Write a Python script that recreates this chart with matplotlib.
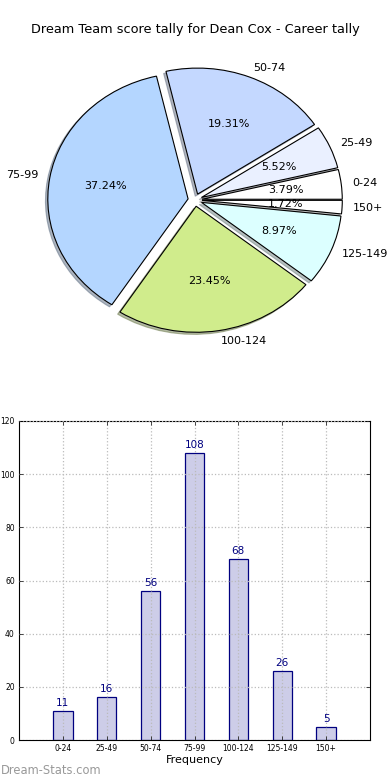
import matplotlib
matplotlib.use("Agg")
import matplotlib.pyplot as plt

# data
categories = ["0-24", "25-49", "50-74", "75-99", "100-124", "125-149", "150+"]
counts = [11, 16, 56, 108, 68, 26, 5]
pie_colors = ["#ffffff", "#eaf0ff", "#c4d8ff", "#b4d6ff", "#d0ec8c", "#dcffff", "#ffffff"]
yticks = [0, 20, 40, 60, 80, 100, 120]

fig = plt.figure(figsize=(3.9, 7.8), dpi=100)
fig.patch.set_facecolor("white")

fig.text(0.5, 1 - 30 / 780, "Dream Team score tally for Dean Cox - Career tally",
         ha="center", va="center", fontsize=9.3, color="black")

# ── Pie ────────────────────────────────────────────────────────────────────
ax1 = fig.add_axes([0.0, 1 - 350 / 780, 1.0, 300 / 780])
wedges, texts, autotexts = ax1.pie(
    counts, labels=categories, colors=pie_colors, explode=[0.05] * len(counts),
    autopct="%1.2f%%", pctdistance=0.6, labeldistance=1.08, startangle=0,
    shadow={"ox": -0.012, "oy": -0.012, "shade": 0.5},
    wedgeprops=dict(edgecolor="black", linewidth=0.8),
    textprops=dict(fontsize=8),
)
ax1.set_aspect("auto")
ax1.set_xlim(-1.39, 1.39)
ax1.set_ylim(-1.19, 1.19)
ax1.axis("off")

# ── Bars ───────────────────────────────────────────────────────────────────
ax2 = fig.add_axes([19 / 390, 1 - 740 / 780, 351 / 390, 319 / 780])
xpos = list(range(1, len(categories) + 1))
bars = ax2.bar(xpos, counts, width=0.44, color="#cdcde8", edgecolor="#000080",
               linewidth=0.9, zorder=2)
for x, v in zip(xpos, counts):
    ax2.text(x, v + 1.2, str(v), ha="center", va="bottom", color="#000080", fontsize=7.5)

ax2.set_xlim(0, 8)
ax2.set_ylim(0, 120)
ax2.set_xticks(xpos)
ax2.set_xticklabels(categories, fontsize=5.5)
ax2.set_yticks(yticks)
ax2.tick_params(axis="y", labelsize=5.5)
ax2.tick_params(direction="in", top=True, right=True, length=3, width=0.5, pad=3)
ax2.grid(True, linestyle=":", color="#bbbbbb", linewidth=0.9, zorder=0)
ax2.set_axisbelow(False)
ax2.set_xlabel("Frequency", fontsize=8, labelpad=1)
for s in ax2.spines.values():
    s.set_linewidth(0.8)

fig.text(1 / 390, 1 - 771 / 780, "Dream-Stats.com", ha="left", va="center",
         fontsize=8.3, color="#999999")

fig.savefig("out.png", dpi=100, facecolor="white")
